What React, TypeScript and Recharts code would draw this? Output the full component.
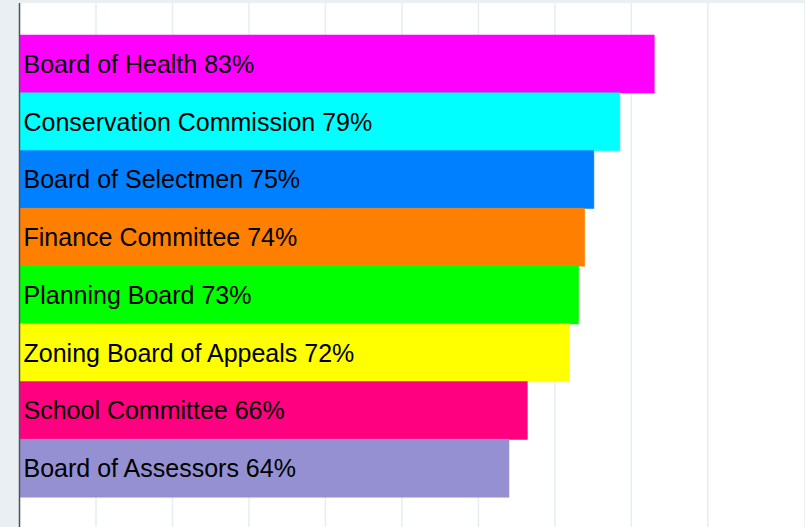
import React from 'react';
import { BarChart, Bar, XAxis, YAxis, CartesianGrid, Cell, LabelList, ReferenceLine } from 'recharts';

const boards = [
  'Board of Health',
  'Conservation Commission',
  'Board of Selectmen',
  'Finance Committee',
  'Planning Board',
  'Zoning Board of Appeals',
  'School Committee',
  'Board of Assessors',
];
// bar lengths
const values = [83.0, 78.5, 75.1, 73.9, 73.1, 71.9, 66.4, 64.0];
// percentages as printed in the labels
const labelPercents = [83, 79, 75, 74, 73, 72, 66, 64];
const barColors = ['#ff00ff', '#00ffff', '#0080ff', '#ff8000', '#00ff00', '#ffff00', '#ff0080', '#9490d2'];
// grid lines every 10%, last one is the right edge of the plot
const xTicks = [0, 10, 20, 30, 40, 50, 60, 70, 80, 90, 102.7];

const data = boards.map((name, i) => ({
  name,
  value: values[i],
  label: `${name} ${labelPercents[i]}%`,
}));

const App: React.FC = () => {
  return (
    <div style={{ position: 'absolute', left: 0, top: 0, width: 805, height: 527, background: '#e9eff2', overflow: 'hidden' }}>
      <BarChart
        width={805}
        height={527}
        data={data}
        layout="vertical"
        barCategoryGap={0}
        margin={{ top: 3, right: 0, bottom: 0, left: 19.5 }}
      >
        <CartesianGrid horizontal={false} fill="#ffffff" stroke="#e6edf1" strokeWidth={1.5} />
        <XAxis type="number" domain={[0, 102.7]} ticks={xTicks} hide />
        <YAxis type="category" dataKey="name" hide padding={{ top: 32, bottom: 30 }} />
        <Bar dataKey="value" isAnimationActive={false}>
          {data.map((d, i) => (
            <Cell key={d.name} fill={barColors[i]} stroke={barColors[i]} strokeOpacity={0.5} strokeWidth={1} />
          ))}
          <LabelList
            dataKey="label"
            position="insideLeft"
            offset={4}
            fill="#000000"
            style={{ fontFamily: '"Liberation Sans", Arial, sans-serif', fontSize: 25 }}
          />
        </Bar>
        <ReferenceLine x={0} stroke="#4f565b" strokeWidth={1.5} />
      </BarChart>
    </div>
  );
};

export default App;
